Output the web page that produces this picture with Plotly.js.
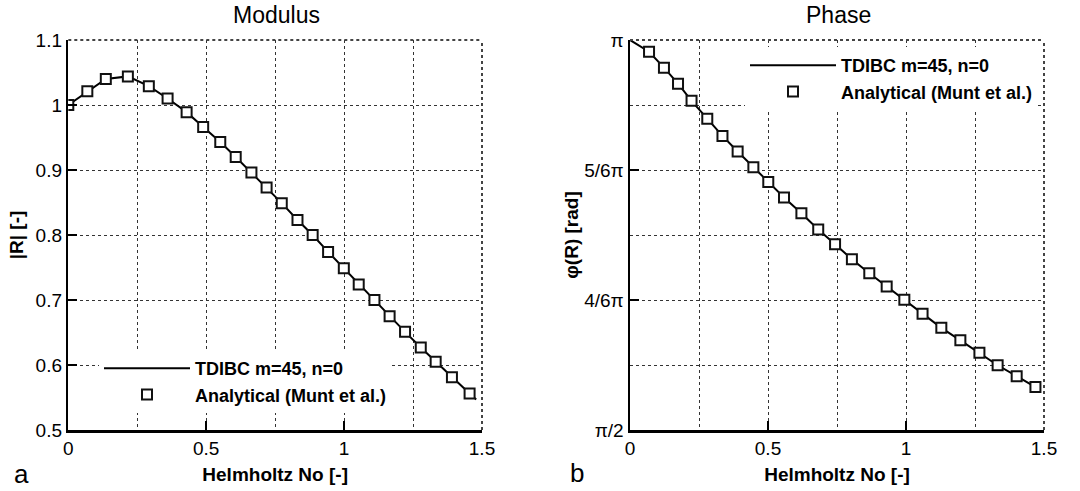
<!DOCTYPE html>
<html><head><meta charset="utf-8">
<script src="https://cdn.plot.ly/plotly-3.0.1.min.js"></script>
<style>html,body{margin:0;padding:0;background:#fff}</style>
</head><body><div id="chart" style="width:1080px;height:491px"></div>
<script>
// ---- Modulus (panel a) ----
const modMarkX = [0,0.069,0.136,0.216,0.292,0.360,0.429,0.489,0.551,0.607,0.664,0.719,0.774,0.831,0.886,0.942,0.999,1.053,1.110,1.165,1.221,1.278,1.332,1.391,1.455];
const modMarkY = [1.000,1.021,1.040,1.044,1.029,1.010,0.989,0.966,0.943,0.920,0.896,0.873,0.849,0.823,0.800,0.774,0.749,0.724,0.700,0.675,0.651,0.627,0.605,0.581,0.556];
const modLineX = [0,0.069,0.136,0.216,0.292,0.360,0.429,0.489,0.551,0.607,0.664,0.719,0.774,0.831,0.886,0.942,0.999,1.053,1.110,1.165,1.221,1.278,1.332,1.391,1.455,1.479];
const modLineY = [1.000,1.021,1.040,1.044,1.029,1.010,0.989,0.966,0.943,0.920,0.896,0.873,0.849,0.823,0.800,0.774,0.749,0.724,0.700,0.675,0.651,0.627,0.605,0.581,0.556,0.547];
// ---- Phase (panel b), values in units of pi ----
const phaseMarkX = [0.069,0.123,0.174,0.223,0.280,0.335,0.390,0.447,0.501,0.558,0.621,0.682,0.743,0.804,0.867,0.930,0.994,1.060,1.128,1.197,1.266,1.332,1.401,1.469];
const phaseMarkYpi = [0.985,0.9645,0.944,0.922,0.899,0.877,0.857,0.837,0.818,0.798,0.778,0.757,0.738,0.719,0.701,0.684,0.667,0.649,0.631,0.615,0.599,0.583,0.569,0.555];
const phaseLineX = [0,0.069,0.123,0.174,0.223,0.280,0.335,0.390,0.447,0.501,0.558,0.621,0.682,0.743,0.804,0.867,0.930,0.994,1.060,1.128,1.197,1.266,1.332,1.401,1.469];
const phaseLineYpi = [1.000,0.985,0.9645,0.944,0.922,0.899,0.877,0.857,0.837,0.818,0.798,0.778,0.757,0.738,0.719,0.701,0.684,0.667,0.649,0.631,0.615,0.599,0.583,0.569,0.555];
const phaseTickPi = [0.5, 4/6, 5/6, 1];
const phaseTickText = ['π/2', '4/6π', '5/6π', 'π'];
const seriesNames = ['<b>TDIBC m=45, n=0</b>', '<b>Analytical (Munt et al.)</b>'];

const PI = Math.PI;
const toRad = a => a.map(v => v * PI);
const FONT = 'Liberation Sans, Arial, sans-serif';
const GRID = '#333';

const lineStyle = {color: '#000', width: 2};
const markStyle = {symbol: 'square', size: 10, color: '#fff', line: {color: '#111', width: 2}};

const traces = [
  {x: modLineX, y: modLineY, mode: 'lines', line: lineStyle, name: seriesNames[0], xaxis: 'x', yaxis: 'y', legend: 'legend'},
  {x: modMarkX, y: modMarkY, mode: 'markers', marker: markStyle, name: seriesNames[1], xaxis: 'x', yaxis: 'y', legend: 'legend'},
  {x: phaseLineX, y: toRad(phaseLineYpi), mode: 'lines', line: lineStyle, name: seriesNames[0], xaxis: 'x2', yaxis: 'y2', legend: 'legend2'},
  {x: phaseMarkX, y: toRad(phaseMarkYpi), mode: 'markers', marker: markStyle, name: seriesNames[1], xaxis: 'x2', yaxis: 'y2', legend: 'legend2'}
];

const W = 1080, H = 491;
const px = v => v / W, py = v => 1 - v / H;

function xAxis(domain, anchor) {
  return {
    domain: domain, anchor: anchor, range: [0, 1.5], dtick: 0.5, tick0: 0,
    ticks: 'inside', ticklen: 9, tickwidth: 2, tickcolor: '#000',
    showline: true, linewidth: 2.5, linecolor: '#000', mirror: false,
    showgrid: true, gridcolor: GRID, griddash: 'dot', gridwidth: 1,
    zeroline: false, automargin: false,
    tickfont: {family: FONT, size: 19, color: '#000'},
    minor: {dtick: 0.25, tick0: 0, showgrid: true, gridcolor: GRID, griddash: 'dot', gridwidth: 1, ticks: ''},
    title: {text: '<b>Helmholtz No [-]</b>', font: {family: FONT, size: 19, color: '#000'}, standoff: 10}
  };
}

const layout = {
  width: W, height: H, autosize: false,
  margin: {l: 0, r: 0, t: 0, b: 0},
  paper_bgcolor: '#fff', plot_bgcolor: '#fff',
  font: {family: FONT, color: '#000'},
  xaxis: xAxis([px(68.3), px(482)], 'y'),
  xaxis2: xAxis([px(630), px(1044)], 'y2'),
  yaxis: {
    domain: [py(430), py(40)], anchor: 'x', range: [0.5, 1.1], dtick: 0.1, tick0: 0.5,
    ticks: 'inside', ticklen: 9, tickwidth: 2, tickcolor: '#000',
    showline: true, linewidth: 2.5, linecolor: '#000',
    showgrid: true, gridcolor: GRID, griddash: 'dot', gridwidth: 1,
    zeroline: false, automargin: false,
    tickfont: {family: FONT, size: 19, color: '#000'},
    title: {text: '<b>|R| [-]</b>', font: {family: FONT, size: 19, color: '#000'}, standoff: 7}
  },
  yaxis2: {
    domain: [py(430), py(40)], anchor: 'x2', range: [PI / 2, PI],
    tickmode: 'array', tickvals: toRad(phaseTickPi), ticktext: phaseTickText,
    ticks: 'inside', ticklen: 9, tickwidth: 2, tickcolor: '#000',
    showline: true, linewidth: 2.5, linecolor: '#000',
    showgrid: true, gridcolor: GRID, griddash: 'dot', gridwidth: 1,
    zeroline: false, automargin: false,
    tickfont: {family: FONT, size: 19, color: '#000'},
    minor: {tickmode: 'linear', tick0: PI / 2, dtick: PI / 12, showgrid: true, gridcolor: GRID, griddash: 'dot', gridwidth: 1, ticks: ''},
    title: {text: '<b>φ(R) [rad]</b>', font: {family: FONT, size: 19, color: '#000'}, standoff: 1}
  },
  legend: {
    x: px(99), y: py(350), xanchor: 'left', yanchor: 'top',
    bgcolor: '#fff', borderwidth: 0, itemwidth: 86, tracegroupgap: 0,
    font: {family: FONT, size: 18, color: '#000'}
  },
  legend2: {
    x: px(745), y: py(47), xanchor: 'left', yanchor: 'top',
    bgcolor: '#fff', borderwidth: 0, itemwidth: 86, tracegroupgap: 0,
    font: {family: FONT, size: 18, color: '#000'}
  },
  shapes: [
    {type: 'line', xref: 'x domain', yref: 'y domain', x0: 0, x1: 1, y0: 1, y1: 1, line: {color: '#444', width: 2, dash: 'dot'}},
    {type: 'line', xref: 'x domain', yref: 'y domain', x0: 1, x1: 1, y0: 0, y1: 1, line: {color: '#444', width: 2, dash: 'dot'}},
    {type: 'line', xref: 'x2 domain', yref: 'y2 domain', x0: 0, x1: 1, y0: 1, y1: 1, line: {color: '#444', width: 2, dash: 'dot'}},
    {type: 'line', xref: 'x2 domain', yref: 'y2 domain', x0: 1, x1: 1, y0: 0, y1: 1, line: {color: '#444', width: 2, dash: 'dot'}}
  ],
  annotations: [
    {text: 'Modulus', xref: 'paper', yref: 'paper', x: px(276), y: py(15), xanchor: 'center', yanchor: 'middle', showarrow: false, font: {family: FONT, size: 23, color: '#000'}},
    {text: 'Phase', xref: 'paper', yref: 'paper', x: px(838), y: py(15), xanchor: 'center', yanchor: 'middle', showarrow: false, font: {family: FONT, size: 23, color: '#000'}},
    {text: 'a', xref: 'paper', yref: 'paper', x: px(21), y: py(474), xanchor: 'center', yanchor: 'middle', showarrow: false, font: {family: FONT, size: 26, color: '#000'}},
    {text: 'b', xref: 'paper', yref: 'paper', x: px(577), y: py(473), xanchor: 'center', yanchor: 'middle', showarrow: false, font: {family: FONT, size: 26, color: '#000'}}
  ],
  showlegend: true
};

Plotly.newPlot('chart', traces, layout, {staticPlot: true, displayModeBar: false});
</script>
</body></html>
